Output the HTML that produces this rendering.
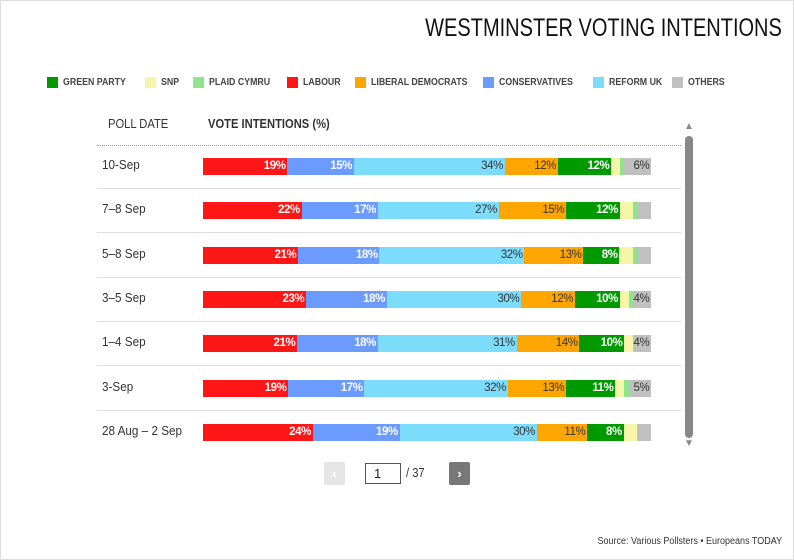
<!DOCTYPE html>
<html><head><meta charset="utf-8">
<style>
body{margin:0;width:794px;height:560px;background:#fff;overflow:hidden;font-family:"Liberation Sans",sans-serif;}
#frame{position:absolute;left:0;top:0;width:792px;height:558px;border:1px solid #ddd;}
.abs{position:absolute;}
.nar{transform:scaleX(0.86);transform-origin:0 0;white-space:nowrap;}
#title{right:12px;top:14px;font-size:25px;color:#111;white-space:nowrap;transform:scaleX(0.8);transform-origin:100% 0;}
.lg{position:absolute;top:77px;height:12px;font-size:10px;font-weight:bold;color:#444;white-space:nowrap;line-height:12px;}
.lg i{display:inline-block;width:11px;height:11px;vertical-align:top;margin-right:5px;}
.lg span{display:inline-block;transform:scaleX(0.88);transform-origin:0 0;}
.rowlab{position:absolute;left:102px;font-size:13px;color:#333;transform:scaleX(0.9);transform-origin:0 0;white-space:nowrap;}
.sep{position:absolute;left:97px;width:584px;height:1px;background:#ddd;}
.seg{position:absolute;height:17px;font-size:11.5px;line-height:17px;text-align:right;box-sizing:border-box;padding-right:2px;overflow:hidden;white-space:nowrap;letter-spacing:-0.4px;}
</style></head><body>
<div id="frame"></div>
<div id="title" class="abs">WESTMINSTER VOTING INTENTIONS</div>

<div class="lg" style="left:47px"><i style="background:#009900"></i><span>GREEN PARTY</span></div>
<div class="lg" style="left:145px"><i style="background:#f6f6aa"></i><span>SNP</span></div>
<div class="lg" style="left:193px"><i style="background:#8ee58e"></i><span>PLAID CYMRU</span></div>
<div class="lg" style="left:287px"><i style="background:#ff1616"></i><span>LABOUR</span></div>
<div class="lg" style="left:355px"><i style="background:#ffa500"></i><span>LIBERAL DEMOCRATS</span></div>
<div class="lg" style="left:483px"><i style="background:#6c9bff"></i><span>CONSERVATIVES</span></div>
<div class="lg" style="left:593px"><i style="background:#7cdcfc"></i><span>REFORM UK</span></div>
<div class="lg" style="left:672px"><i style="background:#c0c0c0"></i><span>OTHERS</span></div>

<div class="abs nar" style="left:108px;top:116px;font-size:13px;color:#333">POLL DATE</div>
<div class="abs nar" style="left:208px;top:116px;font-size:13px;font-weight:bold;color:#333">VOTE INTENTIONS (%)</div>
<div class="abs" style="left:97px;top:145px;width:584px;border-top:1px dotted #999"></div>

<div class="abs" style="left:684px;top:121px;font-size:10px;color:#888">▲</div>
<div class="abs" style="left:685px;top:136px;width:8px;height:302px;background:#888;border-radius:4px"></div>
<div class="abs" style="left:684px;top:438px;font-size:10px;color:#888">▼</div>

<div id="rows"></div>

<div class="abs" style="left:324px;top:462px;width:21px;height:23px;background:#e6e6e6;border-radius:2px;color:#fff;text-align:center;line-height:23px;font-size:13px;font-weight:bold">‹</div>
<div class="abs" style="left:365px;top:463px;width:36px;height:21px;border:1px solid #555;box-sizing:border-box;font-size:13px;line-height:19px;padding-left:8px;color:#222">1</div>
<div class="abs nar" style="left:406px;top:465px;font-size:13px;color:#333">/ 37</div>
<div class="abs" style="left:449px;top:462px;width:21px;height:23px;background:#777;border-radius:2px;color:#fff;text-align:center;line-height:23px;font-size:13px;font-weight:bold">›</div>

<div class="abs" style="right:12px;top:536px;font-size:10px;color:#333;transform:scaleX(0.9);transform-origin:100% 0;white-space:nowrap">Source: Various Pollsters • Europeans TODAY</div>

<script>
const dates = ["10-Sep","7–8 Sep","5–8 Sep","3–5 Sep","1–4 Sep","3-Sep","28 Aug – 2 Sep"];
const labour = [19,22,21,23,21,19,24];
const conservatives = [15,17,18,18,18,17,19];
const reform = [34,27,32,30,31,32,30];
const libdem = [12,15,13,12,14,13,11];
const green = [12,12,8,10,10,11,8];
const snp = [2,3,3,2,2,2,3];
const plaid = [1,1,1,1,0,1,0];
const others = [6,3,3,4,4,5,3];

const series = [
  {name:"labour",vals:labour,color:"#ff1616",text:"#fff"},
  {name:"conservatives",vals:conservatives,color:"#6c9bff",text:"#fff"},
  {name:"reform",vals:reform,color:"#7cdcfc",text:"#333"},
  {name:"libdem",vals:libdem,color:"#ffa500",text:"#333"},
  {name:"green",vals:green,color:"#009900",text:"#fff"},
  {name:"snp",vals:snp,color:"#f6f6aa",text:"#333"},
  {name:"plaid",vals:plaid,color:"#8ee58e",text:"#333"},
  {name:"others",vals:others,color:"#c0c0c0",text:"#333"}
];
const X0=203, W=448, Y0=158, DY=44.3;
const root=document.getElementById('rows');
dates.forEach((d,i)=>{
  const y=Y0+i*DY;
  const lab=document.createElement('div');
  lab.className='rowlab';
  lab.style.top=(y-1)+'px';
  lab.textContent=d;
  
  
  root.appendChild(lab);
  let total=0; series.forEach(s=>total+=s.vals[i]);
  let acc=0;
  series.forEach(s=>{
    const v=s.vals[i];
    if(v<=0) return;
    const x1=X0+acc/total*W, x2=X0+(acc+v)/total*W;
    acc+=v;
    const seg=document.createElement('div');
    seg.className='seg';
    seg.style.left=x1+'px';
    seg.style.width=(x2-x1+0.3)+'px';
    seg.style.top=y+'px';
    seg.style.background=s.color;
    seg.style.color=s.text;
    if(s.text==='#fff') seg.style.fontWeight='bold';
    if(v>=4) seg.textContent=v+'%';
    
    
    root.appendChild(seg);
  });
  if(i<dates.length-1){
    const sp=document.createElement('div');
    sp.className='sep';
    sp.style.top=Math.round(y+30)+'px';
    
    
    root.appendChild(sp);
  }
});
</script>
</body></html>
